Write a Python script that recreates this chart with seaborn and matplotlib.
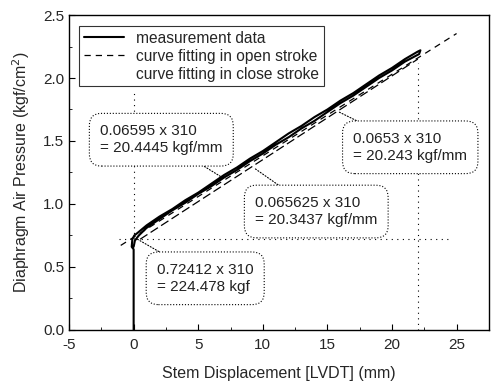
import numpy as np
import pandas as pd
import matplotlib
matplotlib.use("Agg")
import matplotlib.pyplot as plt
import seaborn as sns

# measurement data (hysteresis loop: up the upper branch, back down the lower one)
meas_x = [0.0, 0.0, 0.0, -0.15, -0.1, 0.05, 0.3, 1.0, 2.0, 3.0, 4.0, 5.0, 6.0, 7.0, 8.0, 9.0, 10.0,
          11.0, 12.0, 13.0, 14.0, 15.0, 16.0, 17.0, 18.0, 19.0, 20.0, 21.0, 22.0, 22.2,
          22.1, 21.0, 20.0, 19.0, 18.0, 17.0, 16.0, 15.0, 14.0, 13.0, 12.0, 11.0, 10.0,
          9.0, 8.0, 7.0, 6.0, 5.0, 4.0, 3.0, 2.0, 1.0, 0.4, 0.1, 0.0]
meas_y = [0.0, 0.40, 0.64, 0.66, 0.72, 0.75, 0.77, 0.83, 0.90, 0.96, 1.03, 1.09, 1.16, 1.23, 1.29,
          1.36, 1.42, 1.49, 1.56, 1.62, 1.69, 1.75, 1.82, 1.88, 1.95, 2.02, 2.08, 2.15, 2.21, 2.22,
          2.19, 2.13, 2.06, 2.00, 1.93, 1.86, 1.80, 1.73, 1.66, 1.60, 1.53, 1.47, 1.40,
          1.34, 1.27, 1.21, 1.14, 1.08, 1.01, 0.95, 0.88, 0.81, 0.75, 0.71, 0.66]

# fitted lines
open_x = [-1.0, 25.0]
open_y = [0.671, 2.353]
close_x = [0.5, 22.0]
close_y = [0.72, 2.15]

labels = ["measurement data", "curve fitting in open stroke", "curve fitting in close stroke"]

notes = ["0.06595 x 310\n= 20.4445 kgf/mm",
         "0.0653 x 310\n= 20.243 kgf/mm",
         "0.065625 x 310\n= 20.3437 kgf/mm",
         "0.72412 x 310\n= 224.478 kgf"]
note_xy = [(6.7, 1.22), (15.9, 1.73), (9.4, 1.28), (0.3, 0.72)]
note_text = [(-2.6, 1.51), (17.0, 1.45), (9.4, 0.94), (1.8, 0.41)]

sns.set_style("ticks")
plt.rcParams['font.family'] = ['Liberation Sans', 'DejaVu Sans']
plt.rcParams['axes.unicode_minus'] = False

fig = plt.figure(figsize=(5.04, 3.85), dpi=100)
ax = fig.add_axes([0.137, 0.143, 0.833, 0.818])

# dotted guide lines
ax.plot([-1.1, 24.3], [0.724, 0.724], color='black', ls=(0, (1, 4)), lw=0.8)
ax.plot([0, 0], [0.724, 1.88], color='black', ls=(0, (1, 4)), lw=0.8)
ax.plot([22, 22], [0, 2.12], color='black', ls=(0, (1, 4)), lw=0.8)

meas = pd.DataFrame({"x": meas_x, "y": meas_y})
sns.lineplot(data=meas, x="x", y="y", sort=False, estimator=None, color='black', lw=1.5,
             ax=ax, label=labels[0])
sns.lineplot(x=open_x, y=open_y, color='black', lw=0.9, ax=ax, label=labels[1],
             linestyle=(0, (5, 4)))
sns.lineplot(x=close_x, y=close_y, color='black', lw=0.9, ax=ax, label=labels[2],
             linestyle=(0, (7, 3)))

for t, xy, txy in zip(notes, note_xy, note_text):
    ax.annotate(t, xy=xy, xytext=txy, ha='left', va='center', fontsize=11, color='#222222',
                linespacing=1.3,
                bbox=dict(boxstyle='round,pad=0.7,rounding_size=0.8', fc='white', ec='black',
                          ls=':', lw=0.8),
                arrowprops=dict(arrowstyle='-', color='black', ls=':', lw=0.8,
                                shrinkA=0, shrinkB=0),
                annotation_clip=False)

ax.set_xlim(-5, 27.5)
ax.set_ylim(0, 2.5)
ax.set_xticks([-5, 0, 5, 10, 15, 20, 25])
ax.set_yticks([0.0, 0.5, 1.0, 1.5, 2.0, 2.5])
ax.set_yticklabels(["0.0", "0.5", "1.0", "1.5", "2.0", "2.5"])
ax.set_xticks(np.arange(-2.5, 27.5, 5), minor=True)
ax.set_yticks(np.arange(0.25, 2.5, 0.5), minor=True)
ax.tick_params(which='both', direction='in', labelsize=11, color='black')
ax.tick_params(which='major', length=4)
ax.tick_params(which='minor', length=2)
ax.tick_params(axis='x', pad=6)
for s in ax.spines.values():
    s.set_color('black')
    s.set_linewidth(1.0)

ax.set_xlabel("Stem Displacement [LVDT] (mm)", fontsize=11.5, labelpad=10)
ax.set_ylabel("Diaphragm Air Pressure (kgf/cm$^2$)", fontsize=11.5, labelpad=8)

leg = ax.legend(loc='upper left', fontsize=11.2, frameon=True, fancybox=False, edgecolor='black',
                handlelength=2.6, borderpad=0.3, labelspacing=0.2, bbox_to_anchor=(0.005, 0.99))
leg.get_frame().set_linewidth(0.8)
leg.legend_handles[2].set_visible(False)

fig.savefig("out.png", dpi=100)
